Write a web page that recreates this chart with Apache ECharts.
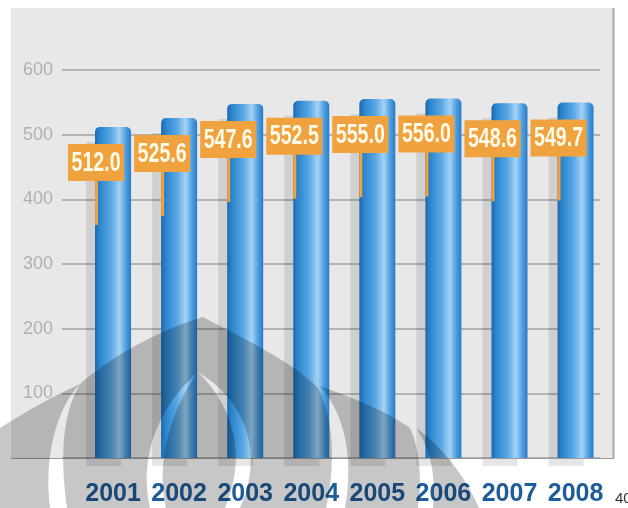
<!DOCTYPE html>
<html>
<head>
<meta charset="utf-8">
<script src="https://cdn.jsdelivr.net/npm/echarts@6/dist/echarts.min.js"></script>
<style>html,body{margin:0;padding:0;background:#fff;}#c{width:628px;height:508px;}</style>
</head>
<body>
<div id="c"></div>
<script>
// ---- data ----
var years = ['2001','2002','2003','2004','2005','2006','2007','2008'];
var values = [512.0, 525.6, 547.6, 552.5, 555.0, 556.0, 548.6, 549.7];
var yTicks = [0, 100, 200, 300, 400, 500, 600];
var pageNumber = '40';

var chart = echarts.init(document.getElementById('c'), null, {renderer: 'canvas'});
var BAR_W = 36;
var FONT = '"Liberation Sans",Arial,sans-serif';

var barGrad = new echarts.graphic.LinearGradient(0, 0, 1, 0, [
  {offset: 0, color: '#1c68ae'},
  {offset: 0.12, color: '#2a84cc'},
  {offset: 0.45, color: '#5aa8e4'},
  {offset: 0.68, color: '#a5d3f4'},
  {offset: 0.86, color: '#4d9ee0'},
  {offset: 1, color: '#2a7bc4'}
]);

var pairs = years.map(function (y, i) { return [i, values[i]]; });

// scan watermark shapes (decoration of the source picture, not data)
var watermark = [
  'M0,428 C25,412 55,395 80,384 C55,410 44,460 50,508 L0,508 Z',
  'M67,508 C60,455 62,415 80,384 C105,362 150,333 203,317 L198,372 C160,405 138,455 150,508 Z',
  'M198,372 C172,408 155,460 166,508 L225,508 C245,460 238,412 198,372 Z',
  'M203,317 C242,338 290,360 318,388 C335,420 335,470 326,508 L240,508 C262,460 252,405 198,372 Z',
  'M320,386 C345,395 385,410 410,428 C420,450 422,480 418,508 L345,508 C352,470 350,420 320,386 Z',
  'M416,428 C440,445 465,475 479,508 L433,508 C436,480 432,450 416,428 Z'
];

var option = {
  animation: false,
  backgroundColor: '#ffffff',
  grid: [
    {left: 62, right: 28, top: 70, bottom: 50},
    {left: 80, right: 19.4, top: 70, bottom: 50}
  ],
  xAxis: [
    {gridIndex: 0, type: 'category', data: years, show: false},
    {gridIndex: 1, type: 'category', data: years,
      axisLine: {show: false}, axisTick: {show: false},
      axisLabel: {interval: 0, color: '#1f5c9a', fontFamily: FONT, fontWeight: 'bold', fontSize: 25, margin: 24}}
  ],
  yAxis: [
    {gridIndex: 0, type: 'value', min: yTicks[0], max: yTicks[yTicks.length - 1], interval: 100,
      axisLine: {show: false}, axisTick: {show: false},
      axisLabel: {color: '#b0b0b0', fontFamily: FONT, fontSize: 18, margin: 9,
        formatter: function (v) { return v === 0 ? '' : String(v); }},
      splitLine: {lineStyle: {color: '#a2a2a2', width: 1.6}}},
    {gridIndex: 1, type: 'value', min: yTicks[0], max: yTicks[yTicks.length - 1], interval: 100, show: false,
      splitLine: {show: false}}
  ],
  graphic: [
    {type: 'rect', z: -10, shape: {x: 11, y: 8, width: 603, height: 450}, style: {fill: '#e8e8e8'}},
    {type: 'line', z: -9, shape: {x1: 613.5, y1: 8, x2: 613.5, y2: 458}, style: {stroke: '#a8a8a8', lineWidth: 2}},
    {type: 'line', z: 5, shape: {x1: 11, y1: 458.5, x2: 614, y2: 458.5}, style: {stroke: '#9a9a9a', lineWidth: 1}},
    {type: 'text', x: 615, y: 491, style: {text: pageNumber, fill: '#333', font: '15px ' + FONT}}
  ],
  series: [
    {
      type: 'custom', xAxisIndex: 1, yAxisIndex: 1, z: 1, silent: true,
      data: pairs,
      renderItem: function (params, api) {
        var top = api.coord([api.value(0), api.value(1)]);
        var base = api.coord([api.value(0), 0]);
        var left = top[0] - BAR_W / 2;
        return {
          type: 'rect',
          shape: {x: left - 9, y: top[1] + 15, width: BAR_W - 1, height: base[1] - top[1] - 15 + 8},
          style: {fill: 'rgba(0,0,0,0.1)'}
        };
      }
    },
    {
      type: 'bar', xAxisIndex: 1, yAxisIndex: 1, z: 2,
      data: values, barWidth: BAR_W,
      itemStyle: {color: barGrad, borderRadius: [5, 5, 0, 0]}
    },
    {
      type: 'custom', xAxisIndex: 1, yAxisIndex: 1, z: 3, silent: true,
      data: pairs,
      renderItem: function (params, api) {
        var top = api.coord([api.value(0), api.value(1)]);
        var left = top[0] - BAR_W / 2;
        var boxTop = top[1] + 17;
        return {
          type: 'group',
          children: [
            {type: 'rect', shape: {x: left, y: boxTop + 30, width: 3, height: 51},
              style: {fill: '#f0a23e'}},
            {type: 'text', x: left + 1, y: boxTop, scaleX: 0.7, scaleY: 1,
              style: {
                text: values[params.dataIndex].toFixed(1),
                x: 0, y: 0, align: 'center', verticalAlign: 'top',
                fill: '#fffbea', font: 'bold 28px ' + FONT, lineHeight: 28,
                backgroundColor: '#f0a23e', padding: [5, 5, 4, 5]
              }}
          ]
        };
      }
    },
    {
      type: 'custom', xAxisIndex: 1, yAxisIndex: 1, z: 50, silent: true,
      data: [[0, 0]],
      renderItem: function () {
        return {
          type: 'group',
          children: watermark.map(function (d) {
            return {type: 'path', shape: {pathData: d}, style: {fill: 'rgba(0,0,0,0.22)'}};
          })
        };
      }
    }
  ]
};
chart.setOption(option);
</script>
</body>
</html>
